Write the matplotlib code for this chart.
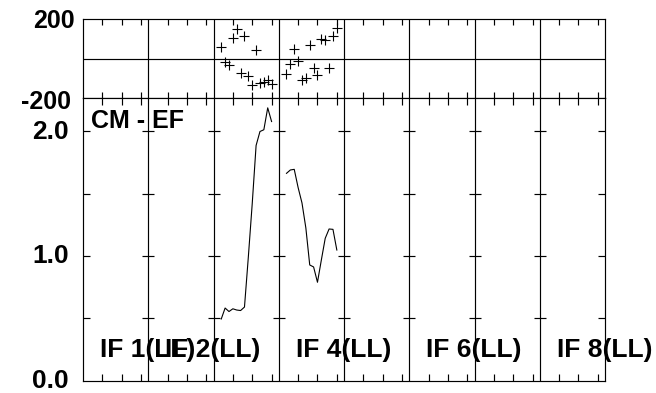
import matplotlib
matplotlib.use("Agg")
import matplotlib.pyplot as plt
import matplotlib.transforms as mtransforms
import numpy as np

# ---- data ----
n_if = 8
if_span = 16.85              # channel units per IF panel
minor_ticks = [5, 10, 15]    # channel tick positions inside each IF
channels = [2, 3, 4, 5, 6, 7, 8, 9, 10, 11, 12, 13, 14, 15]

if3_amp = [0.494, 0.582, 0.554, 0.576, 0.566, 0.562, 0.59, 0.994, 1.42, 1.888, 2.0, 2.014, 2.19, 2.08]
if3_phase = [59, -19, -35, 105, 150, -72, 116, -88, -135, 42, -125, -120, -108, -130]
if4_amp = [1.664, 1.691, 1.696, 1.55, 1.426, 1.225, 0.928, 0.912, 0.789, 0.968, 1.142, 1.217, 1.214, 1.048]
if4_phase = [-81, -29, 47, -15, -111, -98, 67, -46, -85, 101, 96, -49, 116, 155]

amp_ticks = [0.5, 1.0, 1.5, 2.0]
amp_labels = ["2.0", "1.0", "0.0"]
phase_labels = ["200", "-200"]
if_label_text = ["IF 1(LL)", "IF 2(LL)", "IF 4(LL)", "IF 6(LL)", "IF 8(LL)"]
if_label_panel = [0, 1, 3, 5, 7]
title = "CM - EF"

# ---- figure ----
W, H = 656, 393
fig = plt.figure(figsize=(W / 100, H / 100), dpi=100)
FONT = dict(family="Liberation Sans", weight="bold", size=19)
FONT_S = dict(family="Liberation Sans", weight="bold", size=18)

def ax_rect(x0, y0, x1, y1):
    return [x0 / W, 1 - y1 / H, (x1 - x0) / W, (y1 - y0) / H]

ax_ph = fig.add_axes(ax_rect(83, 19, 605, 98))
ax_am = fig.add_axes(ax_rect(83, 98, 605, 380.5))

xmax = n_if * if_span
tick_pos = [i * if_span + t for i in range(n_if) for t in minor_ticks]
dividers = [i * if_span for i in range(1, n_if)]

lw = 0.85
for ax in (ax_ph, ax_am):
    ax.set_xlim(0, xmax)
    for s in ax.spines.values():
        s.set_linewidth(lw)
        s.set_color("black")
    ax.set_xticks(tick_pos)
    ax.set_xticklabels([])
    for d in dividers:
        ax.axvline(d, color="black", lw=lw)

ax_ph.set_ylim(-200, 200)
ax_ph.set_yticks([])
ax_ph.axhline(0, color="black", lw=lw)
ax_ph.tick_params(axis="x", which="both", direction="in", length=4, width=lw,
                  top=True, bottom=True)

ax_am.set_ylim(0, (380.5 - 98) / 124.5)
ax_am.set_yticks(amp_ticks)
ax_am.set_yticklabels([])
ax_am.tick_params(axis="y", direction="in", length=5, width=lw, left=True, right=True)
ax_am.tick_params(axis="x", direction="in", length=5, width=lw, top=True, bottom=True)

# ticks across dividers
for d in dividers:
    ax_am.plot([d] * len(amp_ticks), amp_ticks, ls="none", marker="_",
               ms=8, mew=lw, color="black", clip_on=False)

# data
x3 = [2 * if_span + c for c in channels]
x4 = [3 * if_span + c for c in channels]
ax_am.plot(x3, if3_amp, color="black", lw=0.8)
ax_am.plot(x4, if4_amp, color="black", lw=0.8)
ax_ph.plot(x3, if3_phase, ls="none", marker="+", ms=6.5, mew=0.8, color="black")
ax_ph.plot(x4, if4_phase, ls="none", marker="+", ms=6.5, mew=0.8, color="black")

# axis labels as text
def ftext(x, y, s, font, **kw):
    fig.text(x / W, 1 - y / H, s, **font, **kw)

ftext(75, 21.5, phase_labels[0], FONT_S, ha="right", va="center")
ftext(71, 102, phase_labels[1], FONT_S, ha="right", va="center")
amp_label_y = [132, 256, 381.5]
for s, y in zip(amp_labels, amp_label_y):
    ftext(69, y, s, FONT, ha="right", va="center")

ftext(91, 128, title, FONT_S, ha="left", va="baseline")

base = mtransforms.blended_transform_factory(ax_am.transData, ax_am.transAxes)
for s, p in zip(if_label_text, if_label_panel):
    tr = mtransforms.offset_copy(base, fig=fig, x=17, y=0, units="dots")
    ax_am.text(p * if_span, (380.5 - 357) / 282.5, s, transform=tr,
               ha="left", va="baseline", clip_on=False, **FONT)

fig.savefig("out.png", dpi=100)
